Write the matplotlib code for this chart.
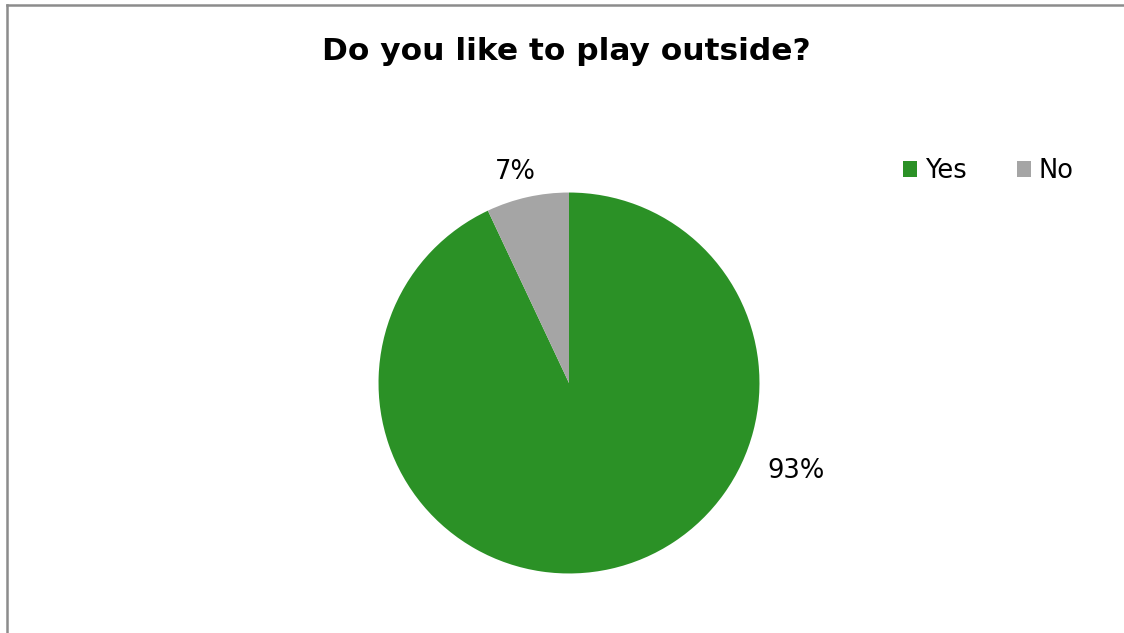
import matplotlib
matplotlib.use("Agg")
import matplotlib.pyplot as plt
from matplotlib.patches import Patch
from matplotlib.lines import Line2D
import numpy as np

title = "Do you like to play outside?"
categories = ["Yes", "No"]
shares = [93, 7]
colors = ["#2B9126", "#A5A5A5"]

W, H, DPI = 1124, 633, 100
fig = plt.figure(figsize=(W / DPI, H / DPI), dpi=DPI)
fig.patch.set_facecolor("white")
plt.rcParams["font.family"] = ["DejaVu Sans"]

# chart frame (left and top edges visible)
fig.add_artist(Line2D([7 / W, 7 / W], [0, 1 - 5 / H], color="#8C8C8C", lw=1.8,
                      transform=fig.transFigure))
fig.add_artist(Line2D([7 / W, 1], [1 - 5 / H, 1 - 5 / H], color="#8C8C8C", lw=1.8,
                      transform=fig.transFigure))

fig.text(566 / W, 1 - 52 / H, title, ha="center", va="center",
         fontsize=22.5, fontweight="bold")

cx, cy, box = 569, H - 383, 400
ax = fig.add_axes([(cx - box / 2) / W, (cy - box / 2) / H, box / W, box / H])
wedges, _ = ax.pie(shares, colors=colors, startangle=90, counterclock=False,
                   radius=1.0, wedgeprops=dict(linewidth=0))
ax.set_xlim(-1.05, 1.05)
ax.set_ylim(-1.05, 1.05)
ax.set_aspect("equal")
ax.axis("off")

# percentage labels placed outside their slices
label_pos = {"Yes": (1.19, -0.46), "No": (-0.28, 1.11)}
for cat, val in zip(categories, shares):
    x, y = label_pos[cat]
    ax.text(x, y, f"{val}%", ha="center", va="center", fontsize=18.5)

handles = [Patch(facecolor=c, edgecolor="none") for c in colors]
fig.legend(handles, categories, loc="center left",
           bbox_to_anchor=(903 / W, 1 - 171 / H), ncol=2, frameon=False,
           fontsize=18.5, handlelength=0.55, handleheight=0.55, handletextpad=0.3,
           columnspacing=1.95, borderaxespad=0, borderpad=0)

fig.savefig("out.png", dpi=DPI)
